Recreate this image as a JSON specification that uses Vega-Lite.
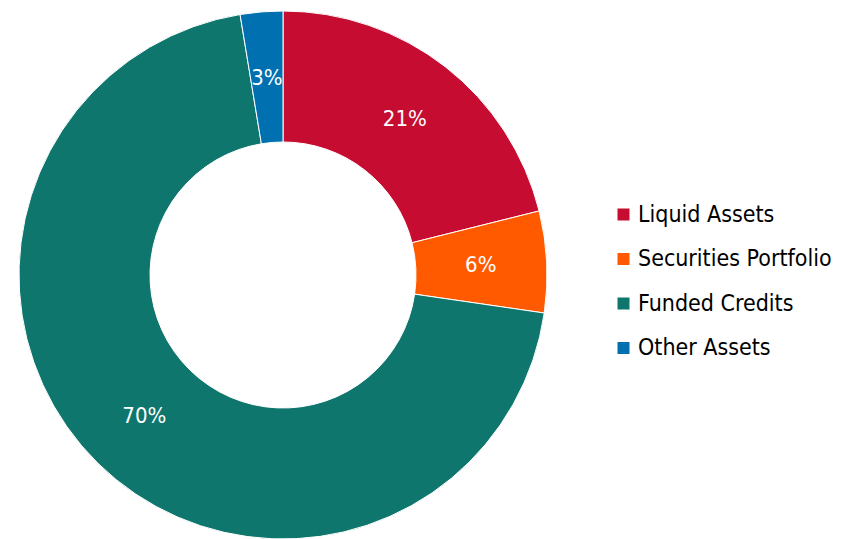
{
  "$schema": "https://vega.github.io/schema/vega-lite/v6.json",
  "width": 566,
  "height": 550,
  "autosize": {"type": "none"},
  "padding": {"left": 0, "top": 0, "right": 279, "bottom": 0},
  "background": "white",
  "data": {"values": [
    {"category": "Liquid Assets", "value": 21.1, "label": "21%", "order": 1},
    {"category": "Securities Portfolio", "value": 6.2, "label": "6%", "order": 2},
    {"category": "Funded Credits", "value": 70.1, "label": "70%", "order": 3},
    {"category": "Other Assets", "value": 2.6, "label": "3%", "order": 4}
  ]},
  "encoding": {
    "theta": {"field": "value", "type": "quantitative", "stack": true},
    "order": {"field": "order", "type": "quantitative"},
    "color": {
      "field": "category", "type": "nominal",
      "scale": {"domain": ["Liquid Assets", "Securities Portfolio", "Funded Credits", "Other Assets"],
                "range": ["#C60C30", "#FF5A00", "#0E766C", "#0070B0"]},
      "legend": {
        "title": null, "orient": "none", "legendX": 612, "legendY": 203,
        "symbolType": "square", "symbolSize": 144, "symbolStrokeWidth": 0,
        "labelFont": "DejaVu Sans Condensed", "labelFontSize": 23, "labelColor": "#000000",
        "rowPadding": 20.5, "labelOffset": 3, "labelLimit": 300
      }
    }
  },
  "layer": [
    {"mark": {"type": "arc", "outerRadius": 264, "innerRadius": 133, "stroke": "white", "strokeWidth": 1}},
    {"mark": {"type": "text", "radius": 198, "font": "DejaVu Sans Condensed", "fontSize": 22},
     "encoding": {"text": {"field": "label"}, "color": {"value": "white"}}}
  ],
  "config": {"view": {"stroke": null}}
}
